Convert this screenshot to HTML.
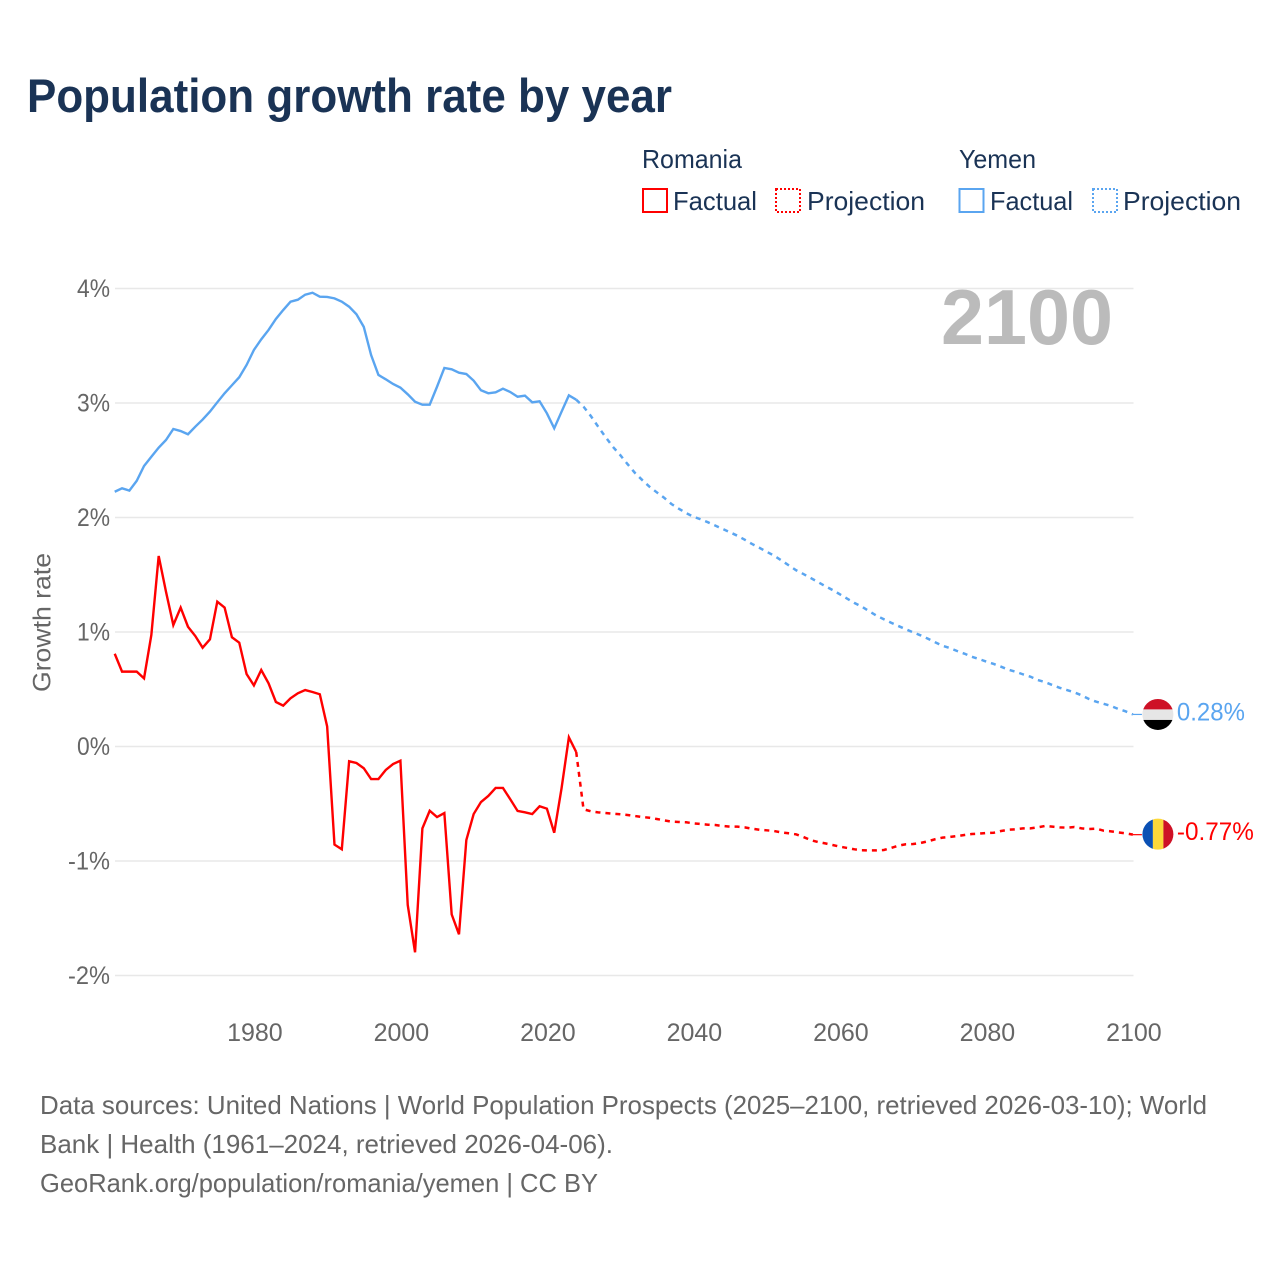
<!DOCTYPE html>
<html lang="en">
<head>
<meta charset="utf-8">
<title>Population growth rate by year</title>
<style>
html,body{margin:0;padding:0;background:#fff;width:1280px;height:1280px;overflow:hidden}
svg{display:block}
text{font-family:"Liberation Sans",sans-serif}
</style>
</head>
<body>
<svg id="chart" width="1280" height="1280" viewBox="0 0 1280 1280" xmlns="http://www.w3.org/2000/svg">
  <rect x="0" y="0" width="1280" height="1280" fill="#ffffff"/>
  <text x="27" y="112" font-size="47" font-weight="700" fill="#1a3355" textLength="645" lengthAdjust="spacingAndGlyphs">Population growth rate by year</text>

  <g font-size="26" fill="#1a3355">
    <text x="642" y="168" textLength="100" lengthAdjust="spacingAndGlyphs">Romania</text>
    <text x="959" y="168" textLength="77" lengthAdjust="spacingAndGlyphs">Yemen</text>
    <rect x="643" y="189" width="24" height="23" fill="none" stroke="#ff0000" stroke-width="2"/>
    <text x="673" y="210" textLength="84" lengthAdjust="spacingAndGlyphs">Factual</text>
    <rect x="776" y="189" width="24" height="23" fill="none" stroke="#ff0000" stroke-width="2" stroke-dasharray="2 2"/>
    <text x="807" y="210" textLength="118" lengthAdjust="spacingAndGlyphs">Projection</text>
    <rect x="959.5" y="189" width="24" height="23" fill="none" stroke="#5aa5f0" stroke-width="2"/>
    <text x="990" y="210" textLength="83" lengthAdjust="spacingAndGlyphs">Factual</text>
    <rect x="1093" y="189" width="24" height="23" fill="none" stroke="#5aa5f0" stroke-width="2" stroke-dasharray="2 2"/>
    <text x="1123" y="210" textLength="118" lengthAdjust="spacingAndGlyphs">Projection</text>
  </g>

  <g id="grid"></g>
  <g id="yticks"></g>
  <g id="xticks"></g>

  <text transform="translate(50.5 622.5) rotate(-90)" text-anchor="middle" font-size="25" fill="#666666" textLength="139" lengthAdjust="spacingAndGlyphs">Growth rate</text>
  <text x="941" y="344" font-size="78" font-weight="700" fill="#bbbbbb" textLength="172" lengthAdjust="spacingAndGlyphs">2100</text>

  <g id="series"></g>

  <defs>
    <clipPath id="flag-clip-yemen"><circle id="yemen-clip-circle" r="15.5"/></clipPath>
    <clipPath id="flag-clip-romania"><circle id="romania-clip-circle" r="15.5"/></clipPath>
  </defs>
  <g id="flags"></g>
  <g id="endlabels"></g>

  <g font-size="26" fill="#666666">
    <text x="40" y="1114" textLength="1167" lengthAdjust="spacingAndGlyphs">Data sources: United Nations | World Population Prospects (2025–2100, retrieved 2026-03-10); World</text>
    <text x="40" y="1153" textLength="573" lengthAdjust="spacingAndGlyphs">Bank | Health (1961–2024, retrieved 2026-04-06).</text>
    <text x="40" y="1192" textLength="558" lengthAdjust="spacingAndGlyphs">GeoRank.org/population/romania/yemen | CC BY</text>
  </g>
</svg>

<script>
const firstFactualYear = 1961;
const firstProjectionYear = 2025;
const yTickValues = [4, 3, 2, 1, 0, -1, -2];
const yTickLabels = ["4%", "3%", "2%", "1%", "0%", "-1%", "-2%"];
const xTickYears = [1980, 2000, 2020, 2040, 2060, 2080, 2100];

const romaniaFactual = [
  0.81, 0.654, 0.654, 0.654, 0.595, 0.974, 1.664, 1.352, 1.061, 1.213,
  1.046, 0.965, 0.863, 0.936, 1.265, 1.213, 0.954, 0.907, 0.633, 0.534,
  0.668, 0.552, 0.389, 0.357, 0.421, 0.465, 0.493, 0.476, 0.456, 0.175,
  -0.857, -0.898, -0.129, -0.144, -0.19, -0.284, -0.284, -0.205, -0.153, -0.124,
  -1.384, -1.797, -0.715, -0.561, -0.616, -0.581, -1.466, -1.64, -0.817, -0.59,
  -0.485, -0.432, -0.362, -0.362, -0.461, -0.563, -0.575, -0.59, -0.522, -0.543,
  -0.753, -0.365, 0.08, -0.048
];
const romaniaProjection = [
  -0.548, -0.566, -0.575, -0.581, -0.587, -0.592, -0.598, -0.607, -0.616, -0.622,
  -0.633, -0.645, -0.656, -0.659, -0.662, -0.671, -0.677, -0.683, -0.686, -0.694,
  -0.7, -0.7, -0.706, -0.718, -0.727, -0.732, -0.738, -0.75, -0.758, -0.767,
  -0.79, -0.817, -0.834, -0.846, -0.86, -0.875, -0.886, -0.898, -0.906, -0.907,
  -0.907, -0.904, -0.886, -0.866, -0.854, -0.852, -0.843, -0.828, -0.81, -0.796,
  -0.79, -0.782, -0.773, -0.764, -0.761, -0.755, -0.753, -0.738, -0.727, -0.723,
  -0.715, -0.715, -0.706, -0.694, -0.7, -0.706, -0.709, -0.703, -0.715, -0.721,
  -0.718, -0.735, -0.741, -0.75, -0.758, -0.77
];
const yemenFactual = [
  2.225, 2.255, 2.235, 2.32, 2.45, 2.53, 2.61, 2.677, 2.773, 2.755,
  2.727, 2.793, 2.855, 2.925, 3.006, 3.085, 3.155, 3.225, 3.332, 3.463,
  3.556, 3.638, 3.734, 3.812, 3.885, 3.902, 3.946, 3.963, 3.928, 3.926,
  3.914, 3.885, 3.841, 3.775, 3.665, 3.419, 3.245, 3.207, 3.166, 3.134,
  3.076, 3.011, 2.985, 2.985, 3.142, 3.306, 3.294, 3.265, 3.253, 3.195,
  3.111, 3.085, 3.093, 3.125, 3.096, 3.055, 3.064, 3.006, 3.015, 2.91,
  2.779, 2.924, 3.067, 3.029
];
const yemenProjection = [
  2.968, 2.886, 2.793, 2.703, 2.618, 2.546, 2.467, 2.391, 2.328, 2.269,
  2.22, 2.173, 2.118, 2.077, 2.039, 2.007, 1.984, 1.958, 1.929, 1.9,
  1.871, 1.841, 1.806, 1.769, 1.736, 1.701, 1.667, 1.626, 1.583, 1.54,
  1.507, 1.472, 1.437, 1.4, 1.367, 1.329, 1.291, 1.253, 1.221, 1.181,
  1.143, 1.111, 1.081, 1.052, 1.024, 0.997, 0.971, 0.942, 0.91, 0.88,
  0.86, 0.834, 0.811, 0.784, 0.764, 0.741, 0.721, 0.697, 0.671, 0.653,
  0.63, 0.61, 0.581, 0.563, 0.537, 0.513, 0.493, 0.473, 0.447, 0.415,
  0.391, 0.373, 0.354, 0.328, 0.307, 0.28
];

const SVG_NS = "http://www.w3.org/2000/svg";
const RED = "#ff0000";
const BLUE = "#5aa5f0";

function xScale(year) { return 253.9 + (year - 1980) * 7.325; }
function yScale(value) { return 746.5 - value * 114.5; }
function make(tag, attrs) {
  const el = document.createElementNS(SVG_NS, tag);
  for (const k in attrs) el.setAttribute(k, attrs[k]);
  return el;
}
function linePath(points) {
  return points.map(function (p, i) {
    return (i ? "L" : "M") + xScale(p[0]).toFixed(2) + " " + yScale(p[1]).toFixed(2);
  }).join(" ");
}
function factualPoints(values) {
  return values.map(function (v, i) { return [firstFactualYear + i, v]; });
}
function projectionPoints(values, factual) {
  const pts = [[firstProjectionYear - 1, factual[factual.length - 1]]];
  values.forEach(function (v, i) { pts.push([firstProjectionYear + i, v]); });
  return pts;
}

const grid = document.getElementById("grid");
const yticks = document.getElementById("yticks");
yTickValues.forEach(function (v, i) {
  const gl = make("line", { x1: 115, x2: 1133.5, y1: yScale(v), y2: yScale(v), stroke: "#e8e8e8", "stroke-width": 1.5 });
  
  
  grid.appendChild(gl);
  const t = make("text", { x: 110, y: yScale(v) + 8.5, "text-anchor": "end", "font-size": 25, fill: "#666666" });
  
  
  t.setAttribute("textLength", yTickLabels[i].length > 2 ? 42 : 33);
  t.setAttribute("lengthAdjust", "spacingAndGlyphs");
  t.textContent = yTickLabels[i];
  yticks.appendChild(t);
});

const xticks = document.getElementById("xticks");
xTickYears.forEach(function (year) {
  const t = make("text", { x: xScale(year) + 1, y: 1041, "text-anchor": "middle", "font-size": 25, fill: "#666666" });
  
  
  t.textContent = String(year);
  xticks.appendChild(t);
});

const series = document.getElementById("series");

const romaniaFactualLine = make("path", { d: linePath(factualPoints(romaniaFactual)), fill: "none", stroke: RED, "stroke-width": 2.4, "stroke-linejoin": "miter" });


series.appendChild(romaniaFactualLine);

const romaniaProjectionLine = make("path", { d: linePath(projectionPoints(romaniaProjection, romaniaFactual)), fill: "none", stroke: RED, "stroke-width": 2.5, "stroke-dasharray": "5 5" });


series.appendChild(romaniaProjectionLine);

const yemenFactualLine = make("path", { d: linePath(factualPoints(yemenFactual)), fill: "none", stroke: BLUE, "stroke-width": 2.4 });


series.appendChild(yemenFactualLine);

const yemenProjectionLine = make("path", { d: linePath(projectionPoints(yemenProjection, yemenFactual)), fill: "none", stroke: BLUE, "stroke-width": 2.5, "stroke-dasharray": "5 5" });


series.appendChild(yemenProjectionLine);

const lastYear = firstProjectionYear + yemenProjection.length - 1;
const flagX = xScale(lastYear) + 25;
const yemenLast = yemenProjection[yemenProjection.length - 1];
const romaniaLast = romaniaProjection[romaniaProjection.length - 1];

const yemenConnector = make("line", { x1: xScale(lastYear), x2: xScale(lastYear) + 9, y1: yScale(yemenLast), y2: yScale(yemenLast), stroke: BLUE, "stroke-width": 1.2 });


series.appendChild(yemenConnector);

const romaniaConnector = make("line", { x1: xScale(lastYear), x2: xScale(lastYear) + 9, y1: yScale(romaniaLast), y2: yScale(romaniaLast), stroke: RED, "stroke-width": 1.2 });


series.appendChild(romaniaConnector);

const flags = document.getElementById("flags");
const yemenCy = yScale(yemenLast);
const romaniaCy = yScale(romaniaLast) - 0.5;
const ycc = document.getElementById("yemen-clip-circle");
ycc.setAttribute("cx", flagX);
ycc.setAttribute("cy", yemenCy);
const rcc = document.getElementById("romania-clip-circle");
rcc.setAttribute("cx", flagX);
rcc.setAttribute("cy", romaniaCy);

const yemenFlag = make("g", { "clip-path": "url(#flag-clip-yemen)" });


yemenFlag.appendChild(make("rect", { x: flagX - 16, y: yemenCy - 16, width: 32, height: 11, fill: "#ce1126" }));
yemenFlag.appendChild(make("rect", { x: flagX - 16, y: yemenCy - 5, width: 32, height: 10.5, fill: "#e6e6e6" }));
yemenFlag.appendChild(make("rect", { x: flagX - 16, y: yemenCy + 5.5, width: 32, height: 11, fill: "#000000" }));
flags.appendChild(yemenFlag);

const romaniaFlag = make("g", { "clip-path": "url(#flag-clip-romania)" });


romaniaFlag.appendChild(make("rect", { x: flagX - 16, y: romaniaCy - 16, width: 11, height: 32, fill: "#0a50b4" }));
romaniaFlag.appendChild(make("rect", { x: flagX - 5, y: romaniaCy - 16, width: 10.5, height: 32, fill: "#fcd83a" }));
romaniaFlag.appendChild(make("rect", { x: flagX + 5.5, y: romaniaCy - 16, width: 11, height: 32, fill: "#ce1126" }));
flags.appendChild(romaniaFlag);

function formatPct(v) { return v.toFixed(2) + "%"; }
const endlabels = document.getElementById("endlabels");

const yemenEnd = make("text", { x: flagX + 19, y: yemenCy + 6, "font-size": 25, fill: BLUE, textLength: 68, lengthAdjust: "spacingAndGlyphs" });


yemenEnd.textContent = formatPct(yemenLast);
endlabels.appendChild(yemenEnd);

const romaniaEnd = make("text", { x: flagX + 19, y: romaniaCy + 6, "font-size": 25, fill: RED, textLength: 77, lengthAdjust: "spacingAndGlyphs" });


romaniaEnd.textContent = formatPct(romaniaLast);
endlabels.appendChild(romaniaEnd);
</script>
</body>
</html>
